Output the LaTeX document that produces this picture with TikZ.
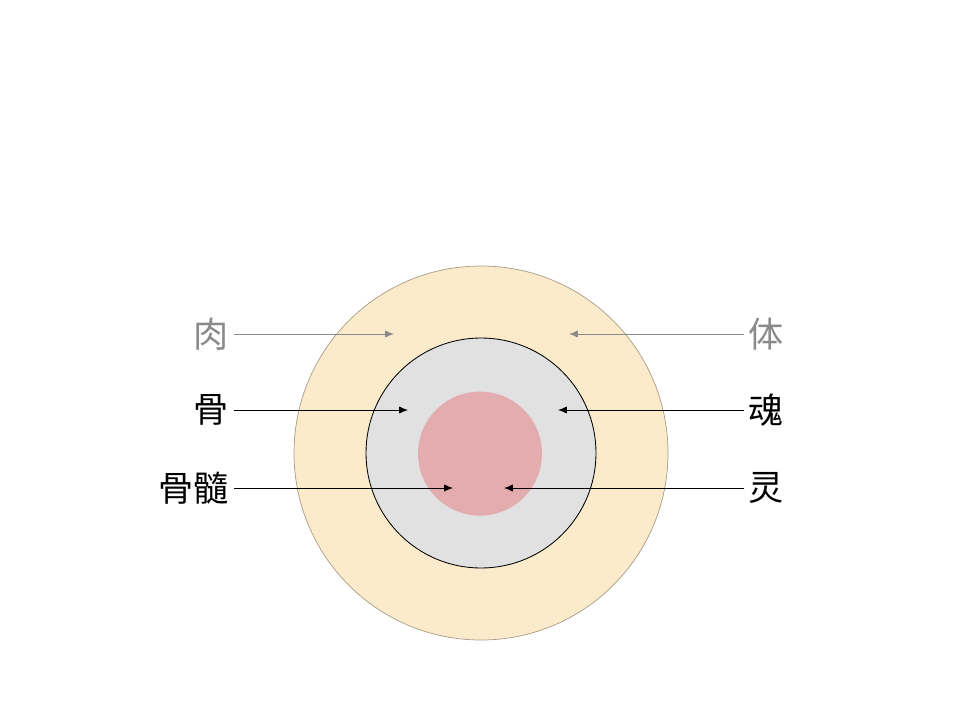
\documentclass[tikz,border=0pt]{standalone}
\usepackage{fontspec}
\newfontfamily\cjk{Noto Sans CJK SC}
\usepackage{xcolor}
\usetikzlibrary{arrows.meta, positioning}
\definecolor{flesh}{HTML}{FBEBCB}
\definecolor{bone}{HTML}{E1E1E1}
\definecolor{marrow}{HTML}{E3ACAF}
\definecolor{rim}{HTML}{A89C88}
\definecolor{dim}{HTML}{8A8A8A}

\begin{document}
\begin{tikzpicture}[x=1cm, y=1cm,
    lbl/.style={font=\cjk\fontsize{25}{30}\selectfont},
    ptr/.style={-{Latex[length=2.2mm, width=1.8mm]}, line width=0.6pt}]
                        \useasboundingbox (0, 0) rectangle (24, 18);
                        % rings
                        \node[circle, draw=rim, line width=0.5pt, fill=flesh, minimum size=9.35cm, inner sep=0pt] (outer) at (12.025, 6.675) {};
                        \node[circle, draw=black, line width=0.6pt, fill=bone, minimum size=5.75cm, inner sep=0pt] (middle) at (12.025, 6.675) {};
                        \node[circle, fill=marrow, minimum size=3.1cm, inner sep=0pt] (inner) at (12.0, 6.66) {};

                        % labels
                        \node[lbl, dim, anchor=east] (rou) at (5.85, 9.65) {肉};
                        \node[lbl, anchor=east] (gu) at (5.85, 7.75) {骨};
                        \node[lbl, anchor=east] (gusui) at (5.85, 5.8) {骨髓};
                        \node[lbl, dim, anchor=west] (ti) at (18.6, 9.65) {体};
                        \node[lbl, anchor=west] (hun) at (18.6, 7.75) {魂};
                        \node[lbl, anchor=west] (ling) at (18.6, 5.8) {灵};

                        \coordinate (rout) at (9.85, 9.65);
                        \coordinate (gut) at (10.2, 7.75);
                        \coordinate (gusuit) at (11.325, 5.8);
                        \coordinate (tit) at (14.225, 9.65);
                        \coordinate (hunt) at (13.95, 7.75);
                        \coordinate (lingt) at (12.6, 5.8);

                        \draw[ptr, dim] (rou) -- (rout);
                        \draw[ptr, dim] (ti) -- (tit);
                        \draw[ptr]
                        (gu) -- (gut);
                        \draw[ptr]
                        (gusui) -- (gusuit);
                        \draw[ptr]
                        (hun) -- (hunt);
                        \draw[ptr]
                        (ling) -- (lingt);
                    \end{tikzpicture}
\end{document}
